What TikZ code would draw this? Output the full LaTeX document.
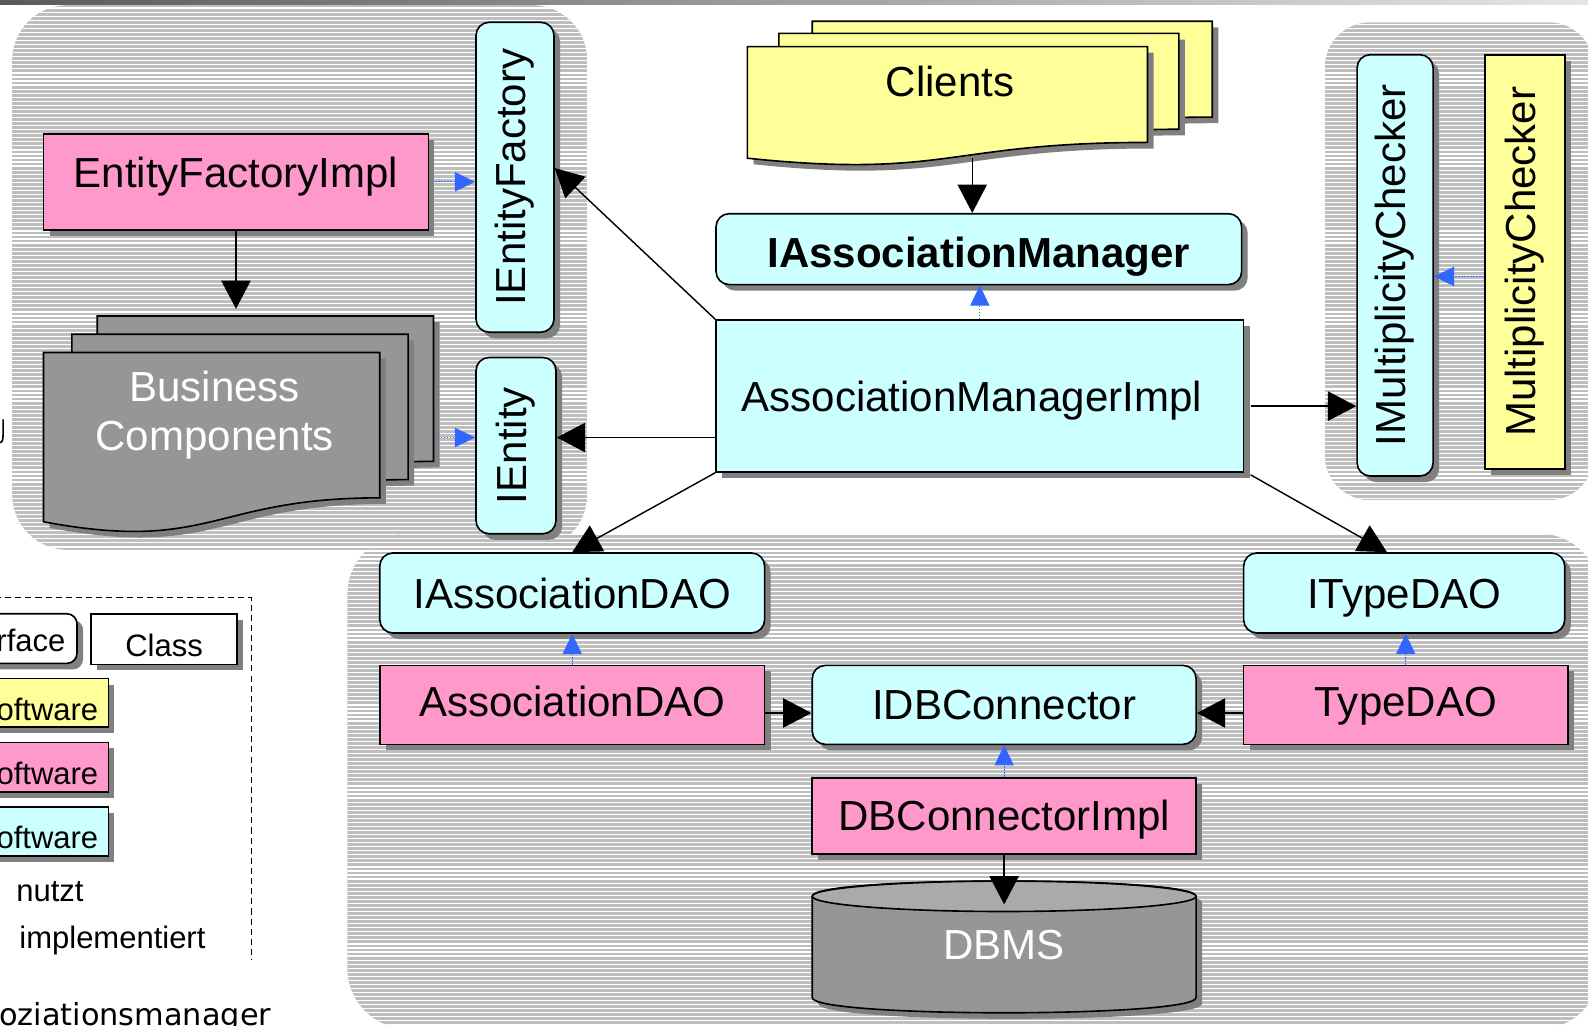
\documentclass[tikz,border=0pt]{standalone}
\usepackage{fontspec}
\setmainfont{Liberation Sans}
\newfontfamily\cptfont{DejaVu Sans}
\usetikzlibrary{arrows.meta,shadows,calc}
\definecolor{ifcyan}{HTML}{CCFFFF}
\definecolor{pinkc}{HTML}{FF99CC}
\definecolor{yellowc}{HTML}{FFFF99}
\definecolor{compgray}{HTML}{969696}
\definecolor{dbtop}{HTML}{AAAAAA}
\definecolor{shadowgray}{HTML}{808080}
\definecolor{hatchgray}{HTML}{BEBEBE}
\definecolor{implblue}{HTML}{3366FF}
\newcommand{\lblfont}{\fontsize{41.5}{49}\selectfont}
\newcommand{\lgfont}{\fontsize{30.6}{36}\selectfont}
\tikzset{
  shad/.style={drop shadow={shadow xshift=6pt,shadow yshift=-6pt,fill=shadowgray,opacity=1}},
  box/.style={draw=black,line width=1.6pt,inner sep=0pt,shad,font=\lblfont},
  iface/.style={box,fill=ifcyan,rounded corners=13pt},
  clsbox/.style={box,fill=#1},
  caps/.style={text height=29.7pt,text depth=0pt},
  sheet/.style={draw=black,line width=1.6pt,shad},
  lgbox/.style={draw=black,line width=1.6pt,inner sep=0pt,shad,font=\lgfont},
  uses/.style={-{Triangle[length=28pt,width=29pt]},line width=1.4pt},
  realizes/.style={-{Triangle[length=20pt,width=19pt]},draw=implblue,line width=1pt,dash pattern=on 1.5pt off 1.5pt}
}
% x, y, width, height, fill
\newcommand{\docsheet}[5]{
  \pgfmathsetmacro{\dsR}{#1+#3}\pgfmathsetmacro{\dsM}{#1+0.5*#3}
  \pgfmathsetmacro{\dsA}{#2+0.802*#4}\pgfmathsetmacro{\dsB}{#2+1.1075*#4}\pgfmathsetmacro{\dsC}{#2+0.934*#4}
  \draw[sheet,fill=#5] (#1,#2) -- (\dsR,#2) -- (\dsR,\dsA) .. controls (\dsM,\dsA) and (\dsM,\dsB) .. (#1,\dsC) -- cycle;}

\begin{document}
\begin{tikzpicture}[x=1pt,y=-1pt]
	\useasboundingbox (0,0) rectangle (1568,1013);
	%TOP BAR
	\shade[left color=gray!70!black,right color=gray!20] (0,0) rectangle (1568,4);
	%GROUPS
	\foreach \gx/\gy/\gX/\gY/\gr in {12/5/580/543/55pt,1308/22/1574/494/45pt,343/527/1580/1016/60pt}{
		\begin{scope}
			\clip[rounded corners=\gr] (\gx,\gy) rectangle (\gX,\gY);
			\fill[hatchgray] (\gx,\gy) rectangle (\gX,\gY);
			\foreach \hy in {0,4,...,1012} \draw[white,line width=1.2pt] (\gx,\hy) -- (\gX,\hy);
		\end{scope}}
	%CLIENTS
	\docsheet{802}{21}{395}{118}{yellowc}
	\docsheet{769}{33}{395}{118}{yellowc}
	\docsheet{738}{46}{395}{118}{yellowc}
	\node[font=\lblfont] (clients) at (938,80) {Clients};
	\coordinate (clients-s) at (960,156);
	%BUSINESS COMPONENTS
	\docsheet{96}{312}{332}{179}{compgray}
	\docsheet{71}{330}{332}{179}{compgray}
	\docsheet{43}{348}{332}{179}{compgray}
	\node[font=\lblfont,text=white,align=center] (bc) at (212,410) {Business\\Components};
	\coordinate (bc-n) at (233,305);
	\coordinate (bc-e) at (432,432);
	%DBMS
	\draw[sheet,fill=compgray] (802,885) .. controls (802,865) and (1181,865) .. (1181,885) -- (1181,985) .. controls (1181,1005) and (802,1005) .. (802,985) -- cycle;
	\draw[line width=1.6pt,fill=dbtop] (991.5,885) ellipse [x radius=189.5,y radius=15];
	\node[font=\lblfont,text=white] (dbms) at (991.5,933) {DBMS};
	\coordinate (dbms-n) at (991.5,893);
	%BOXES
	\node[iface,minimum width=77pt,minimum height=306pt] (ief) at (508.5,175) {\rotatebox{90}{IEntityFactory}};
	\node[iface,minimum width=79pt,minimum height=174pt] (ient) at (509.5,440) {\rotatebox{90}{IEntity}};
	\node[clsbox=pinkc,caps,text depth=19pt,minimum width=380pt,minimum height=95pt] (efi) at (233,179.5) {EntityFactoryImpl};
	\node[iface,caps,text height=37pt,minimum width=519pt,minimum height=70pt,font=\lblfont\bfseries] (iam) at (966.5,246) {IAssociationManager};
	\node[clsbox=ifcyan,caps,minimum width=521pt,minimum height=150pt] (ami) at (967.5,391) {AssociationManagerImpl\hspace*{16pt}};
	\node[iface,minimum width=75pt,minimum height=416pt] (imc) at (1377.5,262) {\rotatebox{90}{IMultiplicityChecker}};
	\node[clsbox=yellowc,minimum width=79pt,minimum height=409pt] (mc) at (1505.5,258.5) {\rotatebox{90}{MultiplicityChecker}};
	\node[iface,caps,minimum width=380pt,minimum height=79pt] (iadao) at (565,585.5) {IAssociationDAO};
	\node[clsbox=pinkc,caps,text depth=6pt,minimum width=380pt,minimum height=78pt] (adao) at (565,696) {AssociationDAO};
	\node[iface,caps,minimum width=379pt,minimum height=78pt] (idbc) at (991.5,696) {IDBConnector};
	\node[iface,caps,minimum width=317pt,minimum height=79pt] (itdao) at (1386.5,585.5) {ITypeDAO};
	\node[clsbox=pinkc,caps,text depth=6pt,minimum width=320pt,minimum height=78pt] (tdao) at (1388,696) {TypeDAO};
	\node[clsbox=pinkc,caps,minimum width=379pt,minimum height=75pt] (dbci) at (991.5,805.5) {DBConnectorImpl};
	%CONNECTORS
	\draw[uses] (clients-s) -- (clients-s |- iam.north);
	\draw[uses] (efi.south) -- (bc-n);
	\draw[realizes] ([xshift=6pt]efi.east) -- (efi.east -| ief.west);
	\draw[realizes] (bc-e) -- (bc-e -| ient.west);
	\draw[uses] (ami.north west) -- ($(ief.east)+(0,-9)$);
	\draw[uses] (ami.west |- 0,432) -- (ient.east |- 0,432);
	\draw[uses] (ami.south west) -- (iadao.north);
	\draw[uses] ($(ami.south east)+(6,2)$) -- ($(itdao.north)+(-17,0)$);
	\draw[uses] ($(ami.east)+(6,10)$) -- (imc.west |- 0,401);
	\draw[realizes] (mc.west |- 0,273) -- (imc.east |- 0,273);
	\draw[realizes] (ami.north) -- (ami.north |- iam.south);
	\draw[realizes] (adao.north) -- (iadao.south);
	\draw[realizes] (tdao.north) -- (tdao.north |- itdao.south);
	\draw[realizes] (dbci.north) -- (idbc.south);
	\draw[uses] (adao.east |- 0,704) -- (idbc.west |- 0,704);
	\draw[uses] (tdao.west |- 0,704) -- (idbc.east |- 0,704);
	\draw[uses] (dbci.south) -- (dbms-n);
	%LEGEND
	\draw[line width=1.2pt,dash pattern=on 6pt off 4pt] (-5,590) -- (248,590) -- (248,948);
	\node[lgbox,fill=white,rounded corners=10pt,text height=26pt,text depth=0pt,minimum width=142pt,minimum height=49pt] (lg-if) at (5,630.5) {Interface};
	\node[lgbox,fill=white,text height=34pt,text depth=0pt,minimum width=144pt,minimum height=50pt] (lg-cls) at (162,631) {Class};
	\node[lgbox,fill=yellowc,text height=34pt,text depth=0pt,minimum height=48pt,text width=240pt,align=right,inner xsep=10pt] (lg-y) at (-23,694) {Software};
	\node[lgbox,fill=pinkc,text height=34pt,text depth=0pt,minimum height=49pt,text width=240pt,align=right,inner xsep=10pt] (lg-p) at (-23,757.5) {Software};
	\node[lgbox,fill=ifcyan,text height=34pt,text depth=0pt,minimum height=48pt,text width=240pt,align=right,inner xsep=10pt] (lg-c) at (-23,821) {Software};
	\node[anchor=west,font=\lgfont,inner sep=0pt] (lg-uses) at (16,880) {nutzt};
	\node[anchor=west,font=\lgfont,inner sep=0pt] (lg-real) at (19,929) {implementiert};
	\node[anchor=base east,font=\cptfont\fontsize{30}{36}\selectfont,inner sep=0pt] (caption) at (268,1013) {Assoziationsmanager};
	\draw[line width=1.5pt] (0,437) .. controls (3,437) and (3,433) .. (3,428) -- (3,414);
\end{tikzpicture}
\end{document}
